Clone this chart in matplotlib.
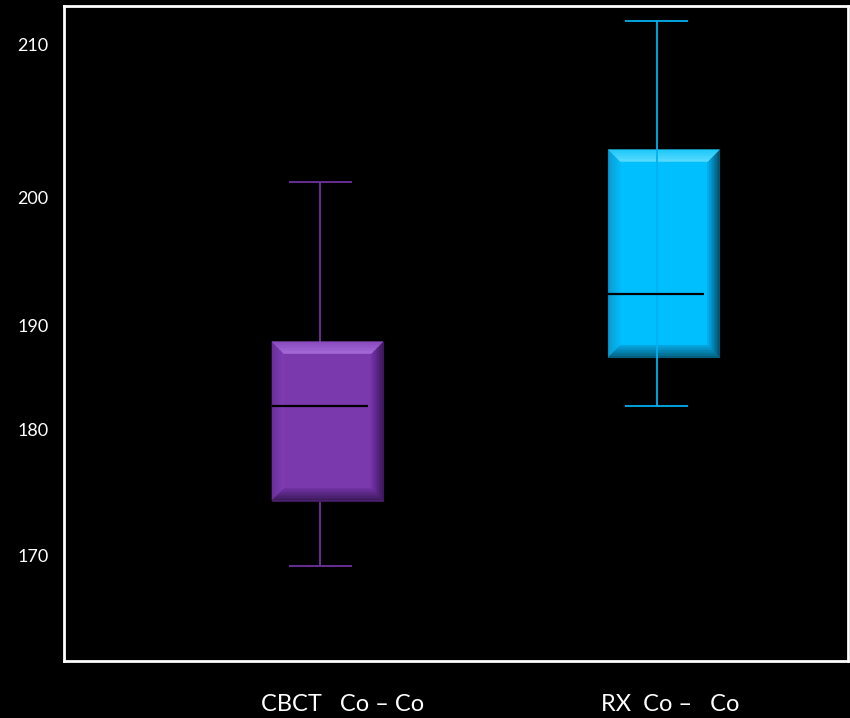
import numpy as np
import matplotlib.pyplot as plt
from matplotlib.patches import Polygon
from matplotlib.colors import to_rgb
from matplotlib.transforms import blended_transform_factory

# box statistics
groups = ['CBCT   Co – Co', 'RX  Co –   Co']
whislo = [169.2, 182.3]
q1 = [174.4, 187.0]
med = [182.3, 192.5]
q3 = [188.5, 203.1]
whishi = [201.0, 211.5]

# the value axis in the original is not evenly spaced: labels sit at these heights
tick_vals = [170, 180, 190, 200, 210]
tick_h = [162, 288, 392, 521, 674]   # pixel height from the bottom of the image

face = ['#7a39ad', '#00bfff']
line_col = ['#7030a0', '#00b0f0']
# (outer, inner) colour of each bevel side
bevel = [dict(top=('#8a4cc0', '#a66ad8'), left=('#6a2e9a', '#7e3eb2'),
              right=('#3e1860', '#7232a6'), bottom=('#3c1a5a', '#6c309c')),
         dict(top=('#20c8f8', '#58dcff'), left=('#0a9cd4', '#05b8f5'),
              right=('#03506e', '#04aae6'), bottom=('#05607f', '#06a2dc'))]

kv = np.array([100.0] + tick_vals + [300.0])
kh = np.array(tick_h, dtype=float)
slope_lo = (kh[1] - kh[0]) / 10
slope_hi = (kh[-1] - kh[-2]) / 10
kh = np.concatenate([[kh[0] - 70 * slope_lo], kh, [kh[-1] + 90 * slope_hi]])


def fwd(v):
    return np.interp(v, kv, kh)


def inv(h):
    return np.interp(h, kh, kv)


fig = plt.figure(figsize=(8.5, 7.18), dpi=100, facecolor='black')
ax = fig.add_axes([64 / 850, 1 - 661 / 718, 784 / 850, 655 / 718])
ax.set_facecolor('black')
ax.set_yscale('function', functions=(fwd, inv))
ax.set_ylim(inv(718 - 661), inv(718 - 6))
ax.set_xlim(0.217, 2.547)

pos = [1, 2]
w = 0.33
stats = []
for i in range(2):
    stats.append(dict(med=med[i], q1=q1[i], q3=q3[i], whislo=whislo[i], whishi=whishi[i], fliers=[]))
bp = ax.bxp(stats, positions=pos, widths=w, patch_artist=True, showcaps=False,
            showfliers=False, whiskerprops=dict(alpha=0), medianprops=dict(alpha=0))
for i, b in enumerate(bp['boxes']):
    b.set_facecolor(face[i])
    b.set_edgecolor(bevel[i]['bottom'][0])
    b.set_linewidth(0.8)
    b.set_zorder(2)

# whiskers and caps (slightly left of the box centre, as in the original)
off = -0.021
cap = 0.187
for i in range(2):
    x = pos[i] + off
    if i == 0:
        ax.vlines(x, q3[i], whishi[i], color=line_col[i], lw=1.3, zorder=1)
        ax.vlines(x, whislo[i], q1[i], color=line_col[i], lw=1.3, zorder=1)
    else:
        ax.vlines(x, whislo[i], whishi[i], color=line_col[i], lw=1.3, zorder=4)
    ax.hlines([whislo[i], whishi[i]], x - cap / 2, x + cap / 2, color=line_col[i], lw=1.3, zorder=1)
    ax.hlines(med[i], pos[i] - w / 2, pos[i] + w / 2 - 0.045, color='black', lw=1.6, zorder=5)

# soft bevel edges, drawn in pixel space as thin graded bands
bw = 12
nb = 8
for i in range(2):
    x0, y0 = ax.transData.transform((pos[i] - w / 2, q1[i]))
    x1, y1 = ax.transData.transform((pos[i] + w / 2, q3[i]))
    for k in ['left', 'right', 'bottom', 'top']:
        c_out = np.array(to_rgb(bevel[i][k][0]))
        c_in = np.array(to_rgb(bevel[i][k][1]))
        for j in range(nb):
            a = bw * j / nb
            b = bw * (j + 1) / nb
            if k == 'top':
                p = [(x0 + a, y1 - a), (x1 - a, y1 - a), (x1 - b, y1 - b), (x0 + b, y1 - b)]
            elif k == 'bottom':
                p = [(x0 + a, y0 + a), (x1 - a, y0 + a), (x1 - b, y0 + b), (x0 + b, y0 + b)]
            elif k == 'left':
                p = [(x0 + a, y0 + a), (x0 + a, y1 - a), (x0 + b, y1 - b), (x0 + b, y0 + b)]
            else:
                p = [(x1 - a, y0 + a), (x1 - a, y1 - a), (x1 - b, y1 - b), (x1 - b, y0 + b)]
            t = j / (nb - 1)
            col = c_out * (1 - t) + c_in * t
            ax.add_patch(Polygon(p, closed=True, transform=None, facecolor=col,
                                 edgecolor=col, lw=0.3, zorder=3))

ax.set_yticks(tick_vals)
ax.set_yticklabels([str(v) for v in tick_vals], color='white', fontsize=13, family='Lato')
ax.tick_params(axis='y', length=0, pad=11)
ax.set_xticks([])
ax.minorticks_off()

# category names sit well below the frame
tr = blended_transform_factory(ax.transData, fig.transFigure)
label_x = [1.046, 2.018]
for i in range(2):
    ax.text(label_x[i], 7 / 718, groups[i], transform=tr, ha='center', va='baseline',
            color='white', fontsize=17, family='Lato')

for s in ax.spines.values():
    s.set_color('white')
    s.set_linewidth(2)

fig.savefig('out.png', dpi=100, facecolor='black')
